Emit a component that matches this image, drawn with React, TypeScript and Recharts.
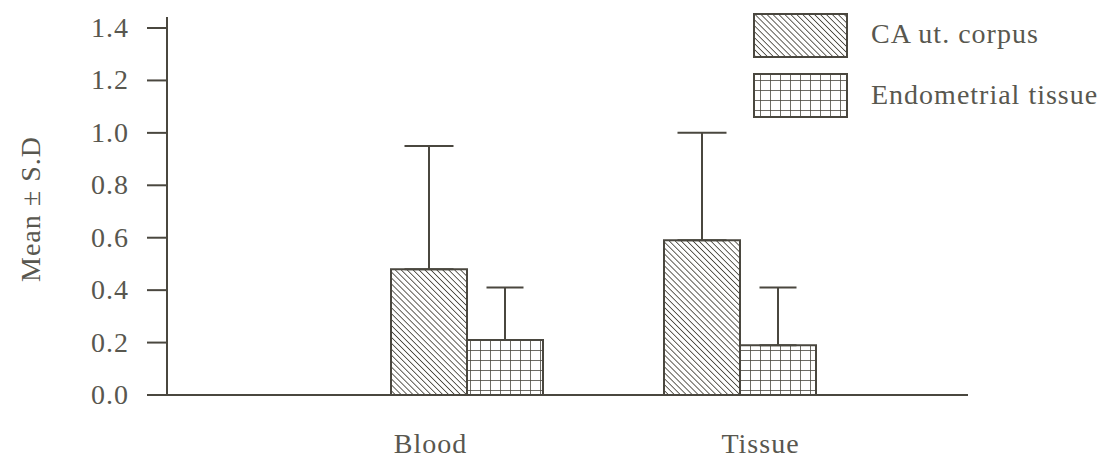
import React from 'react';
import { BarChart, Bar, XAxis, YAxis, ErrorBar, Label } from 'recharts';

const categories = ['Blood', 'Tissue'];
const caMean = [0.48, 0.59];
const caSD = [0.47, 0.41];
const endoMean = [0.21, 0.19];
const endoSD = [0.2, 0.22];
const yTicks = [0, 0.2, 0.4, 0.6, 0.8, 1.0, 1.2, 1.4];
const seriesNames = ['CA ut. corpus', 'Endometrial tissue'];

const data = categories.map((c, i) => ({
  name: c,
  ca: caMean[i],
  caErr: [0, caSD[i]],
  endo: endoMean[i],
  endoErr: [0, endoSD[i]],
}));

const LINE = '#4a473f';
const TEXT = '#58574f';
const FONT = '"Liberation Serif", "Times New Roman", serif';

const labelShift: Record<string, number> = { Blood: -36, Tissue: 21 };

const XTick = (props: any) => {
  const { x, y, payload } = props;
  return (
    <text
      x={x + (labelShift[payload.value] || 0)}
      y={y + 58}
      textAnchor="middle"
      fill={TEXT}
      fontFamily={FONT}
      fontSize={28}
      letterSpacing={1}
    >
      {payload.value}
    </text>
  );
};

const YTick = (props: any) => {
  const { x, y, payload } = props;
  return (
    <text
      x={x}
      y={y}
      dy={9}
      textAnchor="end"
      fill={TEXT}
      fontFamily={FONT}
      fontSize={28}
      letterSpacing={1}
    >
      {Number(payload.value).toFixed(1)}
    </text>
  );
};

const PatternDefs = ({ prefix }: { prefix: string }) => (
  <defs>
    <pattern
      id={`${prefix}-diag`}
      width={4.2}
      height={4.2}
      patternUnits="userSpaceOnUse"
      patternTransform="rotate(-45)"
    >
      <rect width={4.2} height={4.2} fill="#ffffff" />
      <line x1={0} y1={0} x2={0} y2={4.2} stroke={LINE} strokeWidth={1.7} />
    </pattern>
    <pattern id={`${prefix}-grid`} width={10} height={10} patternUnits="userSpaceOnUse">
      <rect width={10} height={10} fill="#ffffff" />
      <line x1={0} y1={0} x2={10} y2={0} stroke={LINE} strokeWidth={1.6} />
      <line x1={0} y1={0} x2={0} y2={10} stroke={LINE} strokeWidth={1.6} />
    </pattern>
  </defs>
);

const LegendBox = () => (
  <svg
    width={361}
    height={130}
    style={{ position: 'absolute', left: 740, top: 0, display: 'block' }}
  >
    <PatternDefs prefix="lg" />
    <rect x={14} y={14} width={93} height={43} fill="url(#lg-diag)" stroke={LINE} strokeWidth={2} />
    <rect x={14} y={74} width={93} height={43} fill="url(#lg-grid)" stroke={LINE} strokeWidth={2} />
    <text x={131} y={43} fill={TEXT} fontFamily={FONT} fontSize={28} letterSpacing={1}>
      {seriesNames[0]}
    </text>
    <text x={131} y={104} fill={TEXT} fontFamily={FONT} fontSize={28} letterSpacing={1}>
      {seriesNames[1]}
    </text>
  </svg>
);

const YLabel = (props: any) => {
  const vb = props.viewBox || { x: 0, y: 0, width: 0, height: 0 };
  const cx = 30;
  const cy = vb.y + vb.height / 2 + 3;
  return (
    <text
      x={cx}
      y={cy}
      transform={`rotate(-90, ${cx}, ${cy})`}
      textAnchor="middle"
      dominantBaseline="central"
      fill={TEXT}
      fontFamily={FONT}
      fontSize={28}
      letterSpacing={1}
    >
      Mean ± S.D
    </text>
  );
};

export default function App() {
  return (
    <div style={{ position: 'absolute', left: 0, top: 0, width: 1101, height: 459, background: '#fff' }}>
      <BarChart
        width={1101}
        height={459}
        data={data}
        margin={{ top: 17, right: 133, bottom: 0, left: 0 }}
        barGap={0}
      >
        <PatternDefs prefix="ch" />
        <XAxis
          dataKey="name"
          height={64}
          padding={{ left: 163, right: 92 }}
          tickLine={false}
          tickSize={0}
          tickMargin={0}
          axisLine={{ stroke: LINE, strokeWidth: 2 }}
          tick={<XTick />}
          interval={0}
        />
        <YAxis
          width={167}
          domain={[0, 1.442]}
          ticks={yTicks}
          allowDataOverflow
          tickSize={20}
          tickMargin={18}
          tickLine={{ stroke: LINE, strokeWidth: 2 }}
          axisLine={{ stroke: LINE, strokeWidth: 2 }}
          tick={<YTick />}
          interval={0}
        >
          <Label content={<YLabel />} />
        </YAxis>
        <Bar dataKey="ca" barSize={76} fill="url(#ch-diag)" stroke={LINE} strokeWidth={2} isAnimationActive={false}>
          <ErrorBar dataKey="caErr" width={24.5} stroke={LINE} strokeWidth={2} direction="y" />
        </Bar>
        <Bar dataKey="endo" barSize={76} fill="url(#ch-grid)" stroke={LINE} strokeWidth={2} isAnimationActive={false}>
          <ErrorBar dataKey="endoErr" width={18.5} stroke={LINE} strokeWidth={2} direction="y" />
        </Bar>
      </BarChart>
      <LegendBox />
    </div>
  );
}
